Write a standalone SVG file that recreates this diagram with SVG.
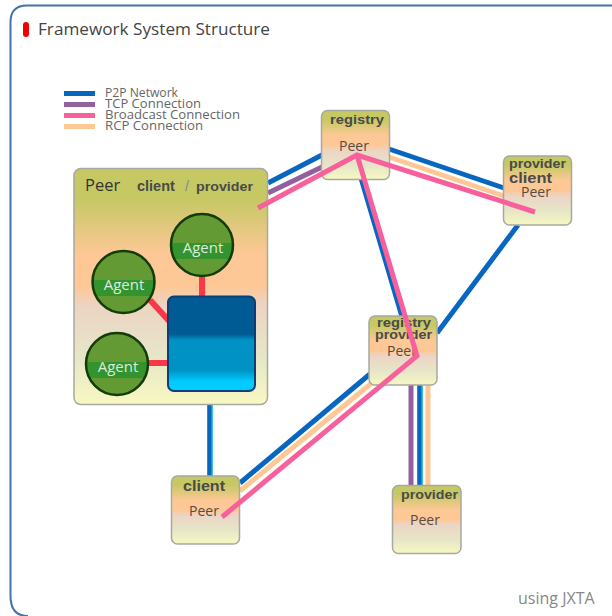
<svg xmlns="http://www.w3.org/2000/svg" width="612" height="616" viewBox="0 0 612 616">
<style>
text{font-family:"Open Sans","Liberation Sans",sans-serif;fill:#444}
.node{fill:url(#peerGrad);stroke:#a8a8a0;stroke-width:1.5}
.role{font-family:"Liberation Sans",Arial,sans-serif;font-weight:bold;font-size:13.5px;fill:#4a4a48}
.peer{font-size:14px;fill:#5a4a42}
.agent{fill:url(#agentGrad);stroke:#143c08;stroke-width:2.5}
.agentText{font-size:15px;fill:#dceadb;text-anchor:middle}
.legend{font-size:12px;fill:#666}
.c{fill:none;stroke-linecap:butt;stroke-linejoin:miter}
.p2p{stroke:#0766c0;stroke-width:5}
.tcp{stroke:#93609f;stroke-width:5}
.bc{stroke:#f8609c;stroke-width:5}
.rcp{stroke:#fdc896;stroke-width:5}
.link{stroke:#fb3848;stroke-width:6;fill:none}
</style>
<defs>
<linearGradient id="peerGrad" x1="0" y1="0" x2="0" y2="1">
<stop offset="0" stop-color="#c6c864"/><stop offset=".13" stop-color="#c6c864"/><stop offset=".36" stop-color="#fdc896"/><stop offset=".5" stop-color="#fdc896"/><stop offset=".58" stop-color="#ecd4c4"/><stop offset=".8" stop-color="#e6e6c8"/><stop offset="1" stop-color="#f8f8c2"/>
</linearGradient>
<linearGradient id="agentGrad" x1="0" y1="0" x2="0" y2="1">
<stop offset="0" stop-color="#649a34"/><stop offset=".47" stop-color="#649a34"/><stop offset=".47" stop-color="#33932f"/><stop offset=".72" stop-color="#33932f"/><stop offset=".72" stop-color="#649a34"/><stop offset="1" stop-color="#649a34"/>
</linearGradient>
<linearGradient id="boxGrad" x1="0" y1="0" x2="0" y2="1">
<stop offset="0" stop-color="#005a94"/><stop offset=".4" stop-color="#005a94"/><stop offset=".46" stop-color="#0092c4"/><stop offset=".78" stop-color="#0092c4"/><stop offset=".9" stop-color="#00ccff"/><stop offset="1" stop-color="#00ccff"/>
</linearGradient>
</defs>
<rect width="612" height="616" fill="#fff"/>
<path id="frame" d="M612 5.5H27Q10.500 5.500 10.500 22V596Q10.500 616 28 616" fill="none" stroke="#4573a8" stroke-width="2"/>
<rect id="bullet" x="23" y="22" width="6" height="15" rx="3" fill="#f00000"/>
<text id="title" x="38" y="35" font-size="17" textLength="232" lengthAdjust="spacingAndGlyphs" style="fill:#444">Framework System Structure</text>
<g id="legend">
<rect x="64" y="91" width="31" height="5" fill="#0766c0"/>
<rect x="64" y="102" width="31" height="5" fill="#93609f"/>
<rect x="64" y="113" width="31" height="5" fill="#f8609c"/>
<rect x="64" y="124" width="31" height="5" fill="#fdc896"/>
<text class="legend" x="105" y="97" textLength="73" lengthAdjust="spacingAndGlyphs">P2P Network</text>
<text class="legend" x="105" y="108" textLength="96" lengthAdjust="spacingAndGlyphs">TCP Connection</text>
<text class="legend" x="105" y="119" textLength="135" lengthAdjust="spacingAndGlyphs">Broadcast Connection</text>
<text class="legend" x="105" y="130" textLength="98" lengthAdjust="spacingAndGlyphs">RCP Connection</text>
</g>
<g id="connectors">
<path class="c p2p" d="M268 183L322 155"/>
<path class="c tcp" d="M268 193L322 167"/>
<path class="c p2p" d="M389 149L504 188"/>
<path class="c rcp" d="M389 157L504 196"/>
<path class="c p2p" d="M361 178L403 320"/>
<path class="c p2p" d="M518 225L437 333"/>
<path class="c p2p" d="M370 374L240 483"/>
<path class="c rcp" d="M373 382L240 491"/>
<path class="c tcp" d="M411 384V487"/>
<path class="c" stroke="#3cc0d0" stroke-width="6" d="M420 384V487"/>
<path class="c" stroke="#0766c0" stroke-width="4" d="M419.500 384V487"/>
<path class="c rcp" d="M428 384V487"/>
<path class="c" stroke="#3cc0d0" stroke-width="6" d="M210 405V477"/>
<path class="c" stroke="#0766c0" stroke-width="4" d="M209.500 405V477"/>
</g>
<g id="peer-main">
<rect class="node" x="74" y="168.500" width="193.500" height="236" rx="7"/>
<text x="85" y="191" font-size="16.500" style="fill:#333">Peer</text>
<text class="role" x="137" y="191" font-size="14" style="font-size:14.500px">client</text>
<text class="role" x="185" y="191" style="font-size:14.500px;font-weight:normal;fill:#888">/</text>
<text class="role" x="196" y="191" textLength="57" lengthAdjust="spacingAndGlyphs" style="font-size:13.500px">provider</text>
<path class="link" d="M202 270V300M150 300L170 322M142 363H170"/>
<rect id="core" x="168" y="296.500" width="87" height="94.500" rx="6" fill="url(#boxGrad)" stroke="#0a3f78" stroke-width="2"/>
</g>
<g id="agent-1"><circle class="agent" cx="202" cy="245" r="31"/><text class="agentText" x="203" y="253">Agent</text></g>
<g id="agent-2"><circle class="agent" cx="123.500" cy="282" r="31"/><text class="agentText" x="124" y="290">Agent</text></g>
<g id="agent-3"><circle class="agent" cx="117" cy="364" r="31"/><text class="agentText" x="118" y="372">Agent</text></g>
<g id="node-registry">
<rect class="node" x="321.500" y="110.500" width="68" height="69" rx="6"/>
<text class="role" x="330" y="124" textLength="54" lengthAdjust="spacingAndGlyphs">registry</text>
<text class="peer" x="339" y="151">Peer</text>
</g>
<g id="node-provider-client">
<rect class="node" x="503.500" y="156" width="68" height="69" rx="6"/>
<text class="role" x="509" y="168" textLength="57" lengthAdjust="spacingAndGlyphs">provider</text>
<text class="role" x="509" y="183" style="font-size:15px" textLength="43" lengthAdjust="spacingAndGlyphs">client</text>
<text class="peer" x="521" y="197">Peer</text>
</g>
<g id="node-registry-provider">
<rect class="node" x="369" y="316" width="68" height="69" rx="6"/>
<text class="role" x="377" y="327" textLength="54" lengthAdjust="spacingAndGlyphs">registry</text>
<text class="role" x="375" y="339" textLength="57" lengthAdjust="spacingAndGlyphs">provider</text>
<text class="peer" x="387" y="356">Peer</text>
</g>
<g id="node-client">
<rect class="node" x="171.500" y="476" width="68" height="68" rx="6"/>
<text class="role" x="183" y="491" style="font-size:14.500px" textLength="42" lengthAdjust="spacingAndGlyphs">client</text>
<text class="peer" x="189" y="516">Peer</text>
</g>
<g id="node-provider">
<rect class="node" x="392.500" y="485.500" width="68.500" height="68" rx="6"/>
<text class="role" x="401" y="499" textLength="57" lengthAdjust="spacingAndGlyphs">provider</text>
<text class="peer" x="410" y="525">Peer</text>
</g>
<g id="broadcast-connectors">
<path class="c bc" d="M258 208L357 155L535 212M357 155L417 356L222 517"/>
</g>
<text id="using" x="518" y="604" font-size="16" style="fill:#888">using JXTA</text>
</svg>
